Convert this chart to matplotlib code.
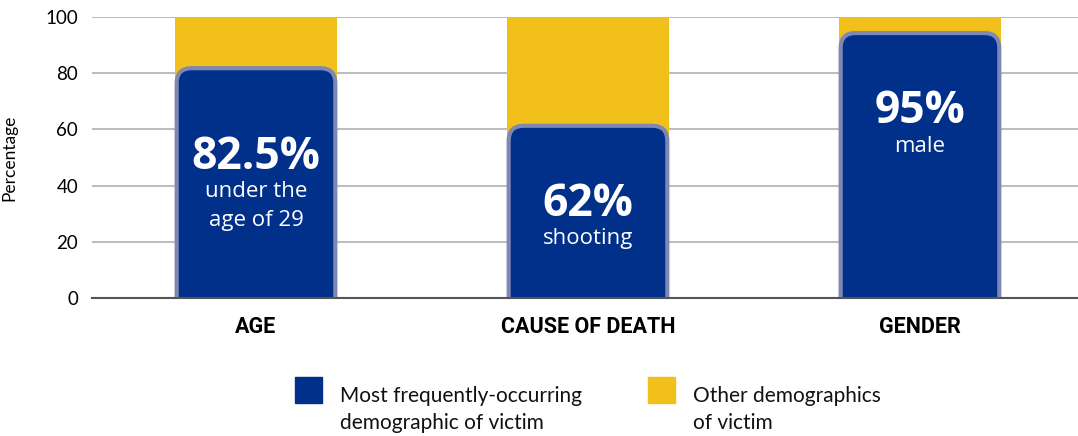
import matplotlib
matplotlib.use("Agg")
import matplotlib.pyplot as plt
from matplotlib.patches import FancyBboxPatch, Rectangle
from matplotlib import font_manager

# data
categories = ["AGE", "CAUSE OF DEATH", "GENDER"]
top_share = [82.5, 62, 95]
big_labels = ["82.5%", "62%", "95%"]
sub_labels = ["under the\nage of 29", "shooting", "male"]
legend_labels = ["Most frequently-occurring\ndemographic of victim",
                 "Other demographics\nof victim"]

BLUE = "#00308a"
YELLOW = "#f2c01a"
EDGE = "#7e88b2"

names = {f.name for f in font_manager.fontManager.ttflist}
narrow = "Liberation Sans Narrow" if "Liberation Sans Narrow" in names else "Roboto"
plain = "Lato"
inbar = "Open Sans"

fig = plt.figure(figsize=(10.78, 4.36), dpi=100)
ax = fig.add_axes([92 / 1078, 1 - 298 / 436, 1 - 92 / 1078, 281 / 436])

xs = list(range(len(categories)))
width = 0.49
ax.set_xlim(-0.494, 2.476)
ax.set_ylim(0, 100)

# yellow background bars (full 100)
ax.bar(xs, [100] * len(xs), width=width, color=YELLOW, zorder=2)

# rounded blue bars
fig.canvas.draw()
(x0, y0), (x1, y1) = ax.transData.transform([(0, 0), (1, 1)])
aspect = (1 / (y1 - y0)) / (1 / (x1 - x0))
rad = 15 / (x1 - x0)
inset = 2 / (x1 - x0)
for x, v in zip(xs, top_share):
    p = FancyBboxPatch((x - width / 2 + inset, -20), width - 2 * inset,
                       v + 20 - 2 / (y1 - y0),
                       boxstyle=f"round,pad=0,rounding_size={rad}",
                       mutation_aspect=aspect, facecolor=BLUE,
                       edgecolor=EDGE, linewidth=3, zorder=3)
    ax.add_patch(p)

# in-bar labels
big_off = [32.6, 28.8, 28.8]
for x, v, big, sub, off in zip(xs, top_share, big_labels, sub_labels, big_off):
    ax.text(x, v - off, big, ha="center", va="center", color="white",
            fontsize=32, fontweight="bold", family=inbar, zorder=4)
    ax.annotate(sub, (x, v - off), xytext=(0, -17), textcoords="offset points",
                ha="center", va="top", color="white", fontsize=16,
                family=inbar, linespacing=1.5, zorder=4)

ax.set_yticks([0, 20, 40, 60, 80, 100])
ax.yaxis.grid(True, color="#bdbdbd", linewidth=1.5, zorder=0)
ax.set_axisbelow(True)
for s in ["top", "right", "left"]:
    ax.spines[s].set_visible(False)
ax.spines["bottom"].set_color("#555555")
ax.spines["bottom"].set_linewidth(1.5)
ax.spines["bottom"].set_zorder(5)
ax.tick_params(axis="y", length=0, labelsize=13.5, pad=10)
ax.tick_params(axis="x", length=0, pad=13)
for t in ax.get_yticklabels():
    t.set_family(plain)
ax.set_xticks(xs)
ax.set_xticklabels(categories, fontsize=15.5, fontweight="bold", family=narrow)
ax.set_ylabel("Percentage", fontsize=12.5, family=plain)
ax.yaxis.set_label_coords(-0.076, 0.5)

# legend
leg = [(295, BLUE, legend_labels[0]), (648, YELLOW, legend_labels[1])]
for px, c, lab in leg:
    fig.patches.append(Rectangle((px / 1078, 1 - 403 / 436), 27 / 1078, 26 / 436,
                                 transform=fig.transFigure, color=c))
    fig.text((px + 45) / 1078, 1 - 386 / 436, lab, ha="left", va="top",
             fontsize=15, family=plain, linespacing=1.45, color="#111111")

fig.savefig("out.png", dpi=100)
